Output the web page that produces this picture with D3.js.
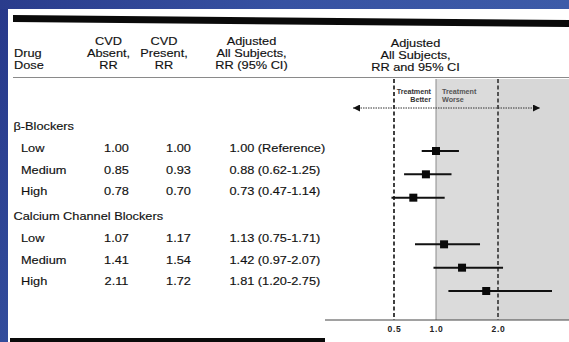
<!DOCTYPE html>
<html><head><meta charset="utf-8">
<script src="https://cdn.jsdelivr.net/npm/d3@7"></script>
<style>html,body{margin:0;padding:0;overflow:hidden;background:#2a3d8a}</style>
</head><body>
<script>
// ---- data ----
const groupNames = ["β-Blockers", "Calcium Channel Blockers"];
const rowGroup = [0, 0, 0, 1, 1, 1];
const rowDose = ["Low", "Medium", "High", "Low", "Medium", "High"];
const cvdAbsent = [1.00, 0.85, 0.78, 1.07, 1.41, 2.11];
const cvdPresent = [1.00, 0.93, 0.70, 1.17, 1.54, 1.72];
const adjRR = [1.00, 0.88, 0.73, 1.13, 1.42, 1.81];
const ciLow = [0.83, 0.62, 0.47, 0.75, 0.97, 1.20];
const ciHigh = [1.37, 1.25, 1.14, 1.71, 2.07, 2.75];
const referenceRow = 0;
const xTicks = [0.5, 1.0, 2.0];
const headers = [
  {lines: ["Drug", "Dose"]},
  {lines: ["CVD", "Absent,", "RR"]},
  {lines: ["CVD", "Present,", "RR"]},
  {lines: ["Adjusted", "All Subjects,", "RR (95% CI)"]},
  {lines: ["Adjusted", "All Subjects,", "RR and 95% CI"]}
];
const betterLabel = ["Treatment", "Better"];
const worseLabel = ["Treatment", "Worse"];

// ---- drawing ----
const W = 569, H = 342, SX = 1.16;
const FONT = "'Liberation Sans', Arial, Helvetica, sans-serif";
const svg = d3.select("body").append("svg").attr("width", W).attr("height", H);
const defs = svg.append("defs");
const grad = defs.append("linearGradient").attr("id", "bg").attr("x1", 0).attr("y1", 0).attr("x2", 1).attr("y2", 1);
grad.append("stop").attr("offset", 0).attr("stop-color", "#27388a");
grad.append("stop").attr("offset", 0.6).attr("stop-color", "#34509f");
grad.append("stop").attr("offset", 1).attr("stop-color", "#1f3180");
svg.append("rect").attr("width", W).attr("height", H).attr("fill", "url(#bg)");
const tg = defs.append("linearGradient").attr("id", "topbg").attr("x1", 0).attr("x2", 1);
tg.append("stop").attr("offset", 0).attr("stop-color", "#2a3c8c");
tg.append("stop").attr("offset", 0.5).attr("stop-color", "#3752a2");
tg.append("stop").attr("offset", 1).attr("stop-color", "#3d5ba8");
svg.append("rect").attr("x", 0).attr("y", 0).attr("width", W).attr("height", 9).attr("fill", "url(#topbg)");

// white panel
svg.append("rect").attr("x", 8).attr("y", 9).attr("width", W - 8).attr("height", H - 9).attr("fill", "#ffffff");

// top thick rule
svg.append("polygon").attr("points", "13,15 569,20 569,27 13,22").attr("fill", "#0a0a0a");
// header rule
svg.append("line").attr("x1", 13).attr("x2", W).attr("y1", 77.5).attr("y2", 77.5)
  .attr("stroke", "#8a8a8a").attr("stroke-width", 1);
// bottom rule (left part)
svg.append("rect").attr("x", 10).attr("y", 338).attr("width", 315).attr("height", 4).attr("fill", "#0a0a0a");

function txt(x, y, s, anchor, size, weight, color) {
  return svg.append("text")
    .attr("transform", `translate(${x},${y}) scale(${SX},1)`)
    .attr("text-anchor", anchor || "start")
    .attr("font-family", FONT)
    .attr("font-size", size || 11)
    .attr("font-weight", weight || "normal")
    .attr("fill", color || "#111")
    .attr("stroke", color || "#111").attr("stroke-width", 0.15)
    .text(s);
}

// headers
const headerX = [14, 108.5, 164, 251.5, 415.5];
const headerAnchor = ["start", "middle", "middle", "middle", "middle"];
const headerY0 = [57, 45, 45, 45, 47];
headers.forEach((h, i) => {
  h.lines.forEach((ln, j) => txt(headerX[i], headerY0[i] + j * 12, ln, headerAnchor[i]));
});

// table rows
const groupBase = [130, 220];
const rowBase = rowDose.map((d, i) => {
  const g = rowGroup[i];
  const j = rowGroup.slice(0, i).filter(v => v === g).length;
  return groupBase[g] + 22 + j * 21.5;
});
groupNames.forEach((g, i) => txt(13.5, groupBase[i], g, "start"));
const fmt = d3.format(".2f");
rowDose.forEach((d, i) => {
  const yb = rowBase[i];
  txt(21, yb, d, "start");
  txt(116.5, yb, fmt(cvdAbsent[i]), "middle");
  txt(178.5, yb, fmt(cvdPresent[i]), "middle");
  const s = i === referenceRow ? `${fmt(adjRR[i])} (Reference)`
    : `${fmt(adjRR[i])} (${fmt(ciLow[i])}-${fmt(ciHigh[i])})`;
  txt(229.5, yb, s, "start");
});

// forest plot
const x = d3.scaleLinear().domain([0.5, 1, 2, 3]).range([394, 436, 498, 570]);
const slot = rowDose.map((d, i) => i + rowGroup[i]);
const y = d3.scaleLinear().domain([0, 6]).range([151, 291]);
const plotTop = 79, axisY = 320;

svg.append("rect").attr("x", x(1)).attr("y", plotTop).attr("width", W - x(1)).attr("height", axisY - plotTop)
  .attr("fill", "#dbdbdb");
svg.append("rect").attr("x", x(2)).attr("y", plotTop).attr("width", W - x(2)).attr("height", axisY - plotTop)
  .attr("fill", "#d7d7d7");
svg.append("line").attr("x1", x(1)).attr("x2", x(1)).attr("y1", plotTop).attr("y2", axisY)
  .attr("stroke", "#8c8c8c").attr("stroke-width", 1);
[0.5, 2].forEach(v => {
  svg.append("line").attr("x1", x(v)).attr("x2", x(v)).attr("y1", plotTop).attr("y2", axisY)
    .attr("stroke", v === 0.5 ? "#111" : "#333").attr("stroke-width", 1.6)
    .attr("stroke-dasharray", "4,2.5");
});

// direction arrow
defs.append("marker").attr("id", "ah").attr("viewBox", "0 0 10 10").attr("refX", 10).attr("refY", 5)
  .attr("markerWidth", 9).attr("markerHeight", 7).attr("markerUnits", "userSpaceOnUse").attr("orient", "auto-start-reverse")
  .append("path").attr("d", "M0,0 L10,5 L0,10 Z").attr("fill", "#111");
svg.append("line").attr("x1", 353).attr("x2", 540).attr("y1", 108).attr("y2", 108)
  .attr("stroke", "#333").attr("stroke-width", 1).attr("stroke-dasharray", "1.5,1")
  .attr("marker-start", "url(#ah)").attr("marker-end", "url(#ah)");
betterLabel.forEach((s, j) => {
  svg.append("text").attr("x", 431).attr("y", 94 + j * 7.5).attr("text-anchor", "end")
    .attr("font-family", FONT).attr("font-size", 7.2).attr("font-weight", "bold").attr("fill", "#333").text(s);
});
worseLabel.forEach((s, j) => {
  svg.append("text").attr("x", 442).attr("y", 94 + j * 7.5).attr("text-anchor", "start")
    .attr("font-family", FONT).attr("font-size", 7.2).attr("font-weight", "bold").attr("fill", "#555").text(s);
});

// CIs and points
const marks = svg.append("g");
rowDose.forEach((d, i) => {
  const yy = y(slot[i]);
  marks.append("line").attr("x1", x(ciLow[i])).attr("x2", x(ciHigh[i])).attr("y1", yy).attr("y2", yy)
    .attr("stroke", "#111").attr("stroke-width", 2);
  marks.append("rect").attr("x", x(adjRR[i]) - 4).attr("y", yy - 4).attr("width", 8).attr("height", 8)
    .attr("fill", "#0a0a0a");
});

// axis
const axis = d3.axisBottom(x).tickValues(xTicks).tickFormat(d3.format(".1f")).tickSize(0).tickPadding(6);
const ag = svg.append("g").attr("transform", `translate(0,${axisY})`).call(axis);
ag.select(".domain").remove();
ag.selectAll("text").attr("font-family", FONT).attr("font-size", 8.5).attr("font-weight", "bold")
  .attr("fill", "#222").attr("letter-spacing", 0.8);
svg.append("line").attr("x1", 325).attr("x2", W).attr("y1", axisY).attr("y2", axisY)
  .attr("stroke", "#444").attr("stroke-width", 1);
</script>
</body></html>
